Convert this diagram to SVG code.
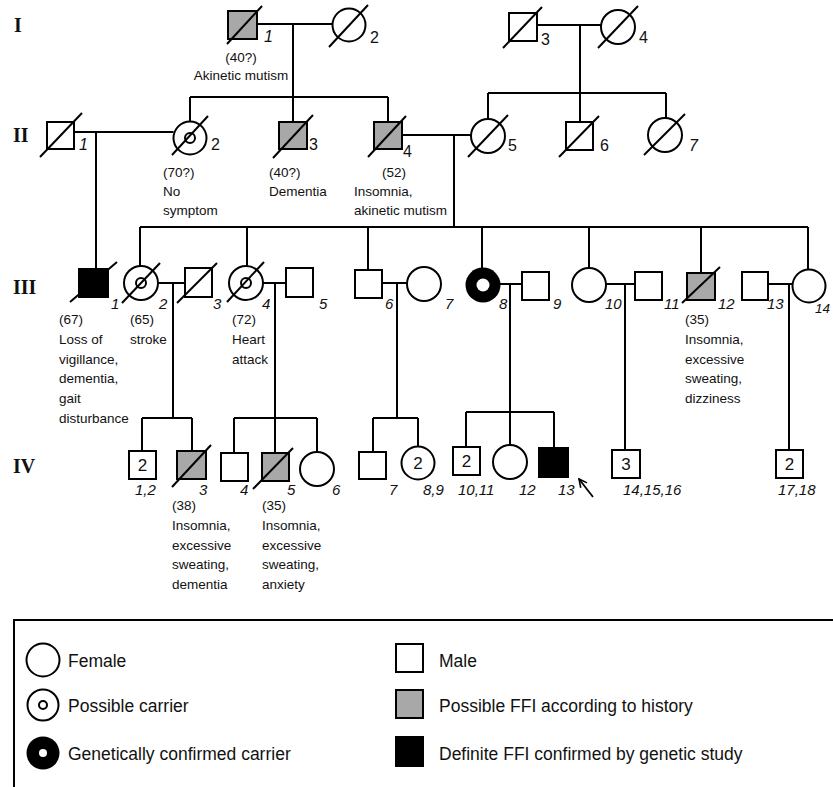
<svg xmlns="http://www.w3.org/2000/svg" width="833" height="787" viewBox="0 0 833 787">
<defs>
<style>
.ln{stroke:#000;stroke-width:2;fill:none}
.s{stroke:#000;stroke-width:2;fill:#fff}
.g{fill:#a8a8a8}
.k{fill:#000}
.sl{stroke:#000;stroke-width:2}
.t{font-family:"Liberation Sans",Arial,sans-serif;font-size:13.5px;fill:#111}
.n{font-family:"Liberation Sans",Arial,sans-serif;font-size:15px;font-style:italic;fill:#111}
.u{font-family:"Liberation Sans",Arial,sans-serif;font-size:16px;fill:#111}
.c{font-family:"Liberation Sans",Arial,sans-serif;font-size:17px;fill:#111;text-anchor:middle}
.gen{font-family:"Liberation Serif","Times New Roman",serif;font-weight:bold;font-size:20px;fill:#111}
.lg{font-family:"Liberation Sans",Arial,sans-serif;font-size:17.5px;fill:#111}
</style>
<marker id="ah" markerWidth="10" markerHeight="10" refX="9" refY="5" orient="auto" markerUnits="userSpaceOnUse">
<path d="M1,1 L9,5 L1,9" fill="none" stroke="#000" stroke-width="1.6"/>
</marker>
</defs>
<rect width="833" height="787" fill="#fff"/>

<g id="generation-labels">
<text class="gen" x="14" y="32">I</text>
<text class="gen" x="13" y="142">II</text>
<text class="gen" x="13" y="294">III</text>
<text class="gen" x="13" y="473">IV</text>
</g>

<g id="connectors">
<path class="ln" d="M257,24 H332 M293,24 V97 M190,97 H388 M190,97 V121 M293,97 V122 M388,97 V122"/>
<path class="ln" d="M537,25 H601 M580,25 V93 M488,93 H666 M488,93 V119 M580,93 V122 M666,93 V118"/>
<path class="ln" d="M74,132 H173.5 M96,132 V269 M402,135 H471 M454,135 V227"/>
<path class="ln" d="M140,227 H808 M140,227 V266 M247,227 V266 M368,227 V270 M482,227 V268 M589,227 V268 M701,227 V273 M808,227 V269.5"/>
<path class="ln" d="M158,283 H185 M173,283 V418 M263,283 H286 M275,283 V418 M382,283 H407 M397,283 V418 M500,284 H522 M510,284 V412 M606,284 H635 M625,284 V450 M768,284 H792.5 M789,284 V450"/>
<path class="ln" d="M142,418 H192 M142,418 V451 M192,418 V451 M234,418 H317 M234,418 V453 M275,418 V453 M317,418 V452 M373,418 H418 M373,418 V452 M418,418 V446.5 M466,412 H554 M466,412 V447 M510,412 V445 M554,412 V448"/>
<line x1="593" y1="497" x2="579" y2="479" stroke="#000" stroke-width="1.8" marker-end="url(#ah)"/>
</g>

<g id="I-1"><rect class="s g" x="228" y="11" width="29" height="28"/><line class="sl" x1="227" y1="44" x2="262" y2="6"/><text class="n" x="264" y="42" style="font-size:16px">1</text>
<text class="t" x="241" y="62" text-anchor="middle">(40?)</text><text class="t" x="241" y="80" text-anchor="middle">Akinetic mutism</text></g>
<g id="I-2"><circle class="s" cx="349" cy="25" r="16.5"/><line class="sl" x1="329" y1="47" x2="368" y2="5"/><text class="u" x="370" y="43">2</text></g>
<g id="I-3"><rect class="s" x="509" y="13" width="28" height="28"/><line class="sl" x1="503" y1="48" x2="542" y2="7"/><text class="u" x="541" y="45">3</text></g>
<g id="I-4"><circle class="s" cx="618" cy="27" r="17"/><line class="sl" x1="598" y1="48" x2="638" y2="6"/><text class="u" x="639" y="43">4</text></g>

<g id="II-1"><rect class="s" x="47" y="122" width="27" height="27"/><line class="sl" x1="40" y1="157" x2="82" y2="113"/><text class="n" x="79" y="150" style="font-size:16px">1</text></g>
<g id="II-2"><circle class="s" cx="190" cy="138" r="16.5"/><circle class="ln" cx="190" cy="138" r="5" stroke-width="1.6"/><line class="sl" x1="172" y1="155" x2="208" y2="116"/><text class="u" x="211" y="150">2</text>
<text class="t" x="163" y="177">(70?)</text><text class="t" x="163" y="196">No</text><text class="t" x="163" y="215">symptom</text></g>
<g id="II-3"><rect class="s g" x="279" y="122" width="28" height="27"/><line class="sl" x1="273" y1="158" x2="313" y2="115"/><text class="u" x="309" y="150">3</text>
<text class="t" x="269" y="177">(40?)</text><text class="t" x="269" y="196">Dementia</text></g>
<g id="II-4"><rect class="s g" x="374" y="122" width="28" height="27"/><line class="sl" x1="368" y1="157" x2="406" y2="116"/><text class="u" x="403" y="157">4</text>
<text class="t" x="394" y="177" text-anchor="middle">(52)</text><text class="t" x="354" y="196">Insomnia,</text><text class="t" x="354" y="215">akinetic mutism</text></g>
<g id="II-5"><circle class="s" cx="488" cy="136" r="17"/><line class="sl" x1="468" y1="157" x2="508" y2="115"/><text class="u" x="508" y="151">5</text></g>
<g id="II-6"><rect class="s" x="566" y="122" width="27" height="28"/><line class="sl" x1="559" y1="157" x2="599" y2="116"/><text class="u" x="600" y="151">6</text></g>
<g id="II-7"><circle class="s" cx="665" cy="135" r="17"/><line class="sl" x1="644" y1="155" x2="685" y2="114"/><text class="n" x="689" y="151" style="font-size:16px">7</text></g>

<g id="III-1"><rect class="s k" x="79" y="269" width="29" height="28"/><line class="sl" x1="70" y1="302" x2="117" y2="262"/><text class="n" x="111" y="309">1</text>
<text class="t" x="59" y="324">(67)</text><text class="t" x="59" y="344">Loss of</text><text class="t" x="59" y="363.5">vigillance,</text><text class="t" x="59" y="383">dementia,</text><text class="t" x="59" y="403">gait</text><text class="t" x="59" y="422.5">disturbance</text></g>
<g id="III-2"><circle class="s" cx="141" cy="283" r="17"/><circle class="ln" cx="141" cy="283" r="5" stroke-width="1.6"/><line class="sl" x1="122" y1="303" x2="160" y2="263"/><text class="n" x="159" y="309">2</text>
<text class="t" x="130" y="324">(65)</text><text class="t" x="130" y="344">stroke</text></g>
<g id="III-3"><rect class="s" x="185" y="268" width="27" height="29"/><line class="sl" x1="177" y1="303" x2="217" y2="263"/><text class="n" x="213" y="309">3</text></g>
<g id="III-4"><circle class="s" cx="246" cy="283" r="17"/><circle class="ln" cx="246" cy="283" r="5" stroke-width="1.6"/><line class="sl" x1="227" y1="302" x2="264" y2="262"/><text class="n" x="262" y="309">4</text>
<text class="t" x="232" y="324">(72)</text><text class="t" x="232" y="344">Heart</text><text class="t" x="232" y="363.5">attack</text></g>
<g id="III-5"><rect class="s" x="286" y="268" width="27" height="29"/><text class="n" x="319" y="309">5</text></g>
<g id="III-6"><rect class="s" x="355" y="270" width="27" height="28"/><text class="n" x="385" y="309">6</text></g>
<g id="III-7"><circle class="s" cx="424" cy="284" r="17"/><text class="n" x="445" y="309">7</text></g>
<g id="III-8"><circle class="k" cx="483" cy="285" r="17.5"/><circle fill="#fff" cx="483" cy="285" r="6.5"/><text class="n" x="499" y="309">8</text></g>
<g id="III-9"><rect class="s" x="522" y="272" width="27" height="28"/><text class="n" x="553" y="309">9</text></g>
<g id="III-10"><circle class="s" cx="589" cy="285" r="17"/><text class="n" x="605" y="309">10</text></g>
<g id="III-11"><rect class="s" x="635" y="272" width="27" height="28"/><text class="n" x="664" y="309">11</text></g>
<g id="III-12"><rect class="s g" x="687" y="273" width="28" height="27"/><line class="sl" x1="682" y1="303" x2="720" y2="267"/><text class="n" x="718" y="309">12</text>
<text class="t" x="685" y="324">(35)</text><text class="t" x="685" y="344">Insomnia,</text><text class="t" x="685" y="363.5">excessive</text><text class="t" x="685" y="383">sweating,</text><text class="t" x="685" y="403">dizziness</text></g>
<g id="III-13"><rect class="s" x="742" y="272" width="26" height="28"/><text class="n" x="767" y="309">13</text></g>
<g id="III-14"><circle class="s" cx="809" cy="286" r="16.5"/><text class="n" x="815" y="313" style="font-size:13.5px">14</text></g>

<g id="IV-1-2"><rect class="s" x="129" y="451" width="27" height="28"/><text class="c" x="142.5" y="471">2</text><text class="n" x="135" y="495">1,2</text></g>
<g id="IV-3"><rect class="s g" x="177" y="451" width="29" height="28"/><line class="sl" x1="172" y1="487" x2="211" y2="445"/><text class="n" x="199" y="495">3</text>
<text class="t" x="172" y="510">(38)</text><text class="t" x="172" y="530">Insomnia,</text><text class="t" x="172" y="549.5">excessive</text><text class="t" x="172" y="569">sweating,</text><text class="t" x="172" y="588.5">dementia</text></g>
<g id="IV-4"><rect class="s" x="221" y="453" width="27" height="28"/><text class="n" x="240" y="495">4</text></g>
<g id="IV-5"><rect class="s g" x="262" y="453" width="27" height="28"/><line class="sl" x1="253" y1="489" x2="293" y2="448"/><text class="n" x="287" y="495">5</text>
<text class="t" x="262" y="510">(35)</text><text class="t" x="262" y="530">Insomnia,</text><text class="t" x="262" y="549.5">excessive</text><text class="t" x="262" y="569">sweating,</text><text class="t" x="262" y="588.5">anxiety</text></g>
<g id="IV-6"><circle class="s" cx="317" cy="469" r="17"/><text class="n" x="332" y="495">6</text></g>
<g id="IV-7"><rect class="s" x="359" y="452" width="27" height="27"/><text class="n" x="389" y="495">7</text></g>
<g id="IV-8-9"><circle class="s" cx="418" cy="463" r="16.5"/><text class="c" x="418" y="469">2</text><text class="n" x="423" y="495">8,9</text></g>
<g id="IV-10-11"><rect class="s" x="453" y="447" width="27" height="28"/><text class="c" x="466.5" y="467">2</text><text class="n" x="458" y="495">10,11</text></g>
<g id="IV-12"><circle class="s" cx="510" cy="462" r="17"/><text class="n" x="519" y="495">12</text></g>
<g id="IV-13"><rect class="s k" x="539" y="448" width="29" height="29"/><text class="n" x="558" y="495">13</text></g>
<g id="IV-14-16"><rect class="s" x="612" y="450" width="28" height="28"/><text class="c" x="626" y="470">3</text><text class="n" x="623" y="495">14,15,16</text></g>
<g id="IV-17-18"><rect class="s" x="776" y="450" width="27" height="28"/><text class="c" x="789.5" y="470">2</text><text class="n" x="778" y="495">17,18</text></g>

<g id="legend">
<rect x="14" y="620" width="840" height="200" fill="none" stroke="#000" stroke-width="2"/>
<circle class="s" cx="43" cy="660" r="16.5"/><text class="lg" x="68" y="667">Female</text>
<circle class="s" cx="43" cy="705" r="15.5"/><circle class="ln" cx="43" cy="705" r="4" stroke-width="1.8"/><text class="lg" x="68" y="712">Possible carrier</text>
<circle class="k" cx="43" cy="753" r="16.5"/><circle fill="#fff" cx="43" cy="753" r="4"/><text class="lg" x="68" y="760">Genetically confirmed carrier</text>
<rect class="s" x="396" y="644" width="27" height="28"/><text class="lg" x="439" y="667">Male</text>
<rect class="s g" x="396" y="690" width="27" height="28"/><text class="lg" x="439" y="712">Possible FFI according to history</text>
<rect class="s k" x="396" y="737" width="27" height="29"/><text class="lg" x="439" y="760">Definite FFI confirmed by genetic study</text>
</g>
</svg>
